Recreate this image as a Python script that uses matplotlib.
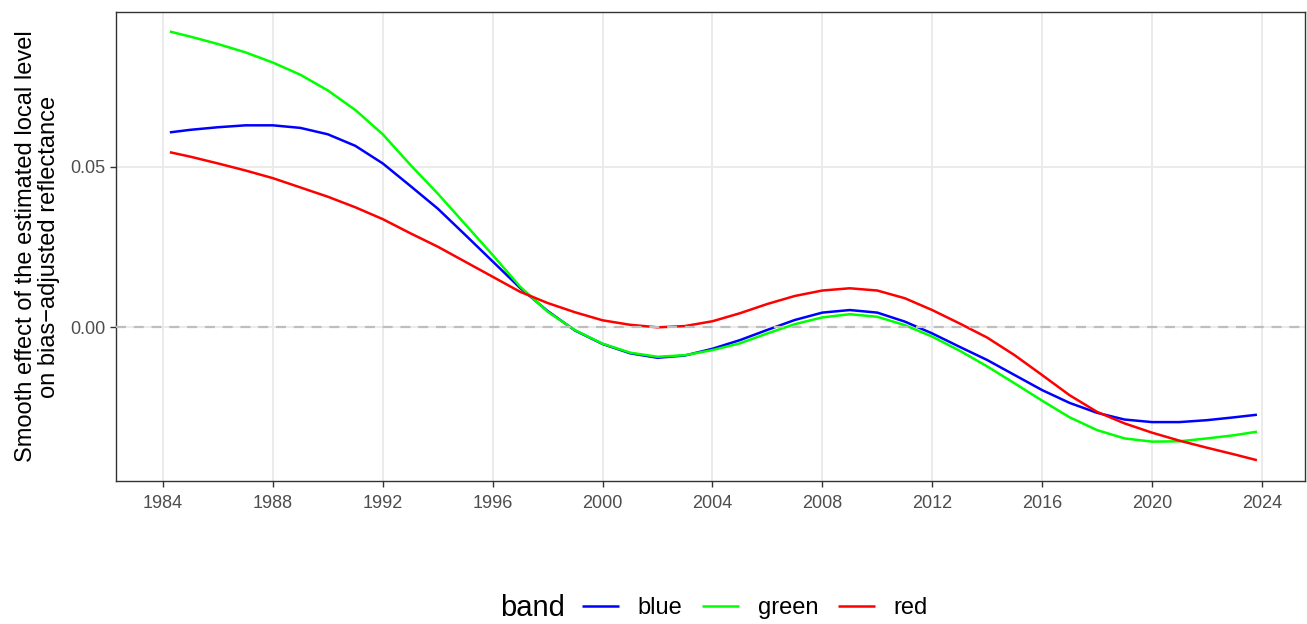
import matplotlib
matplotlib.use("Agg")
import matplotlib.pyplot as plt

plt.rcParams['font.family'] = ['Liberation Sans', 'DejaVu Sans']

years = [1984.25] + list(range(1985, 2024)) + [2023.82]

blue = [0.0608, 0.0616, 0.0624, 0.0630, 0.0630, 0.0622, 0.0602, 0.0566, 0.0511, 0.0441,
        0.0370, 0.0288, 0.0205, 0.0122, 0.0050, -0.0011, -0.0053, -0.0082, -0.0096, -0.0089,
        -0.0068, -0.0041, -0.0009, 0.0022, 0.0045, 0.0053, 0.0045, 0.0017, -0.0020, -0.0062,
        -0.0103, -0.0150, -0.0197, -0.0237, -0.0268, -0.0289, -0.0297, -0.0297, -0.0291, -0.0282,
        -0.0274]
green = [0.0923, 0.0907, 0.0884, 0.0858, 0.0826, 0.0788, 0.0739, 0.0678, 0.0602, 0.0507,
         0.0417, 0.0321, 0.0225, 0.0126, 0.0048, -0.0010, -0.0052, -0.0080, -0.0093, -0.0088,
         -0.0072, -0.0051, -0.0020, 0.0009, 0.0030, 0.0040, 0.0032, 0.0006, -0.0030, -0.0074,
         -0.0123, -0.0176, -0.0230, -0.0282, -0.0322, -0.0348, -0.0358, -0.0357, -0.0348, -0.0338,
         -0.0327]
red = [0.0546, 0.0532, 0.0511, 0.0489, 0.0465, 0.0436, 0.0407, 0.0374, 0.0337, 0.0293,
       0.0251, 0.0204, 0.0157, 0.0110, 0.0075, 0.0046, 0.0021, 0.0007, -0.0001, 0.0003,
       0.0018, 0.0043, 0.0072, 0.0097, 0.0114, 0.0121, 0.0114, 0.0090, 0.0053, 0.0011,
       -0.0033, -0.0088, -0.0150, -0.0213, -0.0265, -0.0301, -0.0330, -0.0355, -0.0377, -0.0398,
       -0.0416]

bands = ["blue", "green", "red"]
series = {"blue": blue, "green": green, "red": red}
colors = {"blue": "#0000FF", "green": "#00FF00", "red": "#FF0000"}

x_ticks = list(range(1984, 2025, 4))
y_ticks = [0.00, 0.05]
y_labels = ["0.00", "0.05"]

W, H = 1307, 624
fig = plt.figure(figsize=(W / 100, H / 100), dpi=100)
ax = fig.add_axes([116 / W, (H - 481) / H, (1305 - 116) / W, (481 - 12) / H])

handles = []
for b in bands:
    h, = ax.plot(years, series[b], color=colors[b], lw=1.8, zorder=3,
                 solid_joinstyle='round', solid_capstyle='butt')
    handles.append(h)

ax.axhline(0, color="#BEBEBE", lw=1.6, ls=(0, (4.5, 3.5)), zorder=4)

ax.set_xlim(1982.29, 2025.57)
ax.set_ylim(-0.0481, 0.0984)
ax.set_xticks(x_ticks)
ax.set_xticklabels([str(t) for t in x_ticks])
ax.set_yticks(y_ticks)
ax.set_yticklabels(y_labels)

ax.grid(True, color="#EBEBEB", lw=1.4, zorder=0)
ax.set_axisbelow(True)
for s in ax.spines.values():
    s.set_color("#333333")
    s.set_linewidth(1.0)
ax.tick_params(axis='both', colors="#333333", length=4.3, width=1.0, labelcolor="#4D4D4D",
               labelsize=13, pad=3.5)
ax.tick_params(axis='x', pad=5.5)

ax.set_ylabel("Smooth effect of the estimated local level\non bias\u2212adjusted reflectance",
              fontsize=17, color="black", labelpad=7, linespacing=1.05)

fig.text(500 / W, 1 - 608 / H, "band", fontsize=21, ha="left", va="center", color="black")
leg = fig.legend(handles, bands, loc="center left", bbox_to_anchor=(582 / W, 1 - 608 / H),
                 ncol=3, frameon=False, fontsize=17, handlelength=1.55, handletextpad=0.8,
                 columnspacing=0.85, borderpad=0, borderaxespad=0)

fig.savefig("out.png", dpi=100)
